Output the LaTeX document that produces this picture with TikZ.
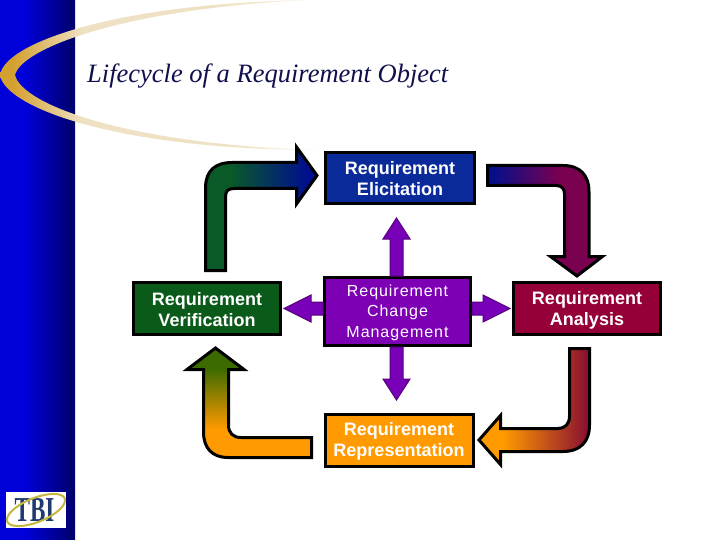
\documentclass[tikz,border=0pt]{standalone}
\usepackage{fontspec}
\setmainfont{Liberation Sans}
\newfontfamily\titlefont{Liberation Serif}
\usetikzlibrary{calc,shapes.geometric}
\definecolor{bandA}{HTML}{0000D8}
\definecolor{bandB}{HTML}{00006A}
\definecolor{gold}{HTML}{D4A030}
\definecolor{cream}{HTML}{EFE2C4}
\definecolor{navy}{HTML}{10104E}
\definecolor{boxblue}{HTML}{0A2A9A}
\definecolor{boxpurple}{HTML}{7E00B4}
\definecolor{boxgreen}{HTML}{0A5A1A}
\definecolor{boxred}{HTML}{960038}
\definecolor{boxorange}{HTML}{FF9A00}
\definecolor{arrgreen}{HTML}{0A5A28}
\definecolor{arrblue}{HTML}{00108C}
\definecolor{arrmaroon}{HTML}{7A0050}
\definecolor{arrdred}{HTML}{8A1030}
\definecolor{arrolive}{HTML}{3A6A00}
\definecolor{logoblue}{HTML}{1F3A70}
\definecolor{logogold}{HTML}{C4B840}
\pgfdeclarehorizontalshading{bandshade}{100bp}{color(0bp)=(bandA);color(42bp)=(bandA);color(75bp)=(bandB);color(100bp)=(bandB)}
\pgfdeclarehorizontalshading{swooshshade}{100bp}{color(0bp)=(gold);color(27bp)=(gold);color(38bp)=(cream);color(60bp)=(cream);color(75bp)=(cream!40!white);color(100bp)=(white)}
\pgfdeclarehorizontalshading{greenblue}{100bp}{color(0bp)=(arrgreen);color(36bp)=(arrgreen);color(70bp)=(arrblue);color(100bp)=(arrblue)}
\pgfdeclarehorizontalshading{bluemaroon}{100bp}{color(0bp)=(arrblue);color(26bp)=(arrblue);color(56bp)=(arrmaroon);color(100bp)=(arrmaroon)}
\pgfdeclarehorizontalshading{orangered}{100bp}{color(0bp)=(boxorange);color(36bp)=(boxorange);color(74bp)=(arrdred);color(100bp)=(arrdred)}
\pgfdeclareverticalshading{orangegreen}{100bp}{color(0bp)=(boxorange);color(38bp)=(boxorange);color(66bp)=(arrolive);color(100bp)=(arrolive)}
\tikzset{
  boxnode/.style={draw=black,line width=3pt,align=center,text=white,inner sep=0pt,font=\fontsize{18}{21}\selectfont\bfseries},
  curvedarrow/.style={draw=black,line width=3pt,miter limit=10},
  purplearrow/.style={draw=boxpurple!70!black,line width=1pt,fill=boxpurple!95!blue},
}
\newcommand\toprule[1]{\rule{0pt}{#1pt}}
% start, tip, head length
\newcommand\purpleblock[3]{%
  \draw[purplearrow] ($(#1)!6.5pt!90:(#2)$)
    -- ($(#2)!#3pt!(#1)!6.5pt!-90:(#1)$)
    -- ($(#2)!#3pt!(#1)!13.5pt!-90:(#1)$)
    -- (#2)
    -- ($(#2)!#3pt!(#1)!13.5pt!90:(#1)$)
    -- ($(#2)!#3pt!(#1)!6.5pt!90:(#1)$)
    -- ($(#1)!6.5pt!-90:(#2)$) -- cycle;}
\begin{document}
\begin{tikzpicture}[x=1pt,y=-1pt]
\useasboundingbox (0,0) rectangle (720,540);
\fill[white] (0,0) rectangle (720,540);
\shade[shading=bandshade] (0,0) rectangle (75,540);
\shade[shading=swooshshade] (0,75) .. controls (5,108) and (120,150) .. (320,150)
  .. controls (130,145) and (22,105) .. (15,75)
  .. controls (22,47) and (130,8) .. (310,0)
  .. controls (120,3) and (5,42) .. (0,75) -- cycle;

\node[text=navy,font=\titlefont\itshape\fontsize{26.5}{32}\selectfont,anchor=west,inner sep=0pt] (title) at (87,76) {Lifecycle of a Requirement Object};

% Nodes
\node[boxnode,fill=boxblue,minimum width=149pt,minimum height=51pt] (elic) at (400,178) {\toprule{15}Requirement\\Elicitation};
\node[boxnode,fill=boxpurple,minimum width=146pt,minimum height=68pt,font=\fontsize{16}{20.5}\selectfont\addfontfeature{LetterSpace=6}] (chg) at (397.5,311.5) {\toprule{14}Requirement\\Change\\Management};
\node[boxnode,fill=boxgreen,minimum width=147pt,minimum height=52pt] (verif) at (207,308.5) {\toprule{15}Requirement\\Verification};
\node[boxnode,fill=boxred,minimum width=147pt,minimum height=52pt] (anal) at (587,308.5) {\toprule{17}Requirement\\Analysis};
\node[boxnode,fill=boxorange,minimum width=148pt,minimum height=52pt] (repr) at (399,440) {\toprule{15}Requirement\\Representation};

% Purple arrows
\coordinate (tU) at (396.5,218);
\coordinate (sU) at (chg.north -| tU);
\coordinate (tD) at (396.5,400);
\coordinate (sD) at (chg.south -| tD);
\coordinate (tL) at (284,308.5);
\coordinate (sL) at (chg.west |- tL);
\coordinate (tR) at (510,308.5);
\coordinate (sR) at (chg.east |- tR);
\purpleblock{sU}{tU}{21}
\purpleblock{sD}{tD}{21}
\purpleblock{sL}{tL}{27}
\purpleblock{sR}{tR}{27}

% Curved block arrows
\coordinate (tipG) at (317,175.5);
\coordinate (tipR) at (577,276);
\coordinate (tipO) at (479,440);
\coordinate (tipV) at (215.5,348);

\path[curvedarrow,shading=greenblue]
  (205.5,270.5) -- (205.5,188) .. controls (205.5,171) and (215,162.5) .. (232,162.5)
  -- (296.5,162.5) -- (296.5,147) -- (tipG) -- (296.5,204) -- (296.5,188.5)
  -- (234,188.5) .. controls (228,188.5) and (225.5,191) .. (225.5,197) -- (225.5,270.5) -- cycle;

\path[curvedarrow,shading=bluemaroon]
  (487.5,165.5) -- (563,165.5) .. controls (580,165.5) and (589,175) .. (589,192)
  -- (589,256.5) -- (602.5,256.5) -- (tipR) -- (550.5,256.5) -- (564.5,256.5)
  -- (564.5,194) .. controls (564.5,189) and (562,185.5) .. (556,185.5) -- (487.5,185.5) -- cycle;

\path[curvedarrow,shading=orangered]
  (589.5,348.5) -- (589.5,425) .. controls (589.5,442) and (580,451.5) .. (563,451.5)
  -- (500.5,451.5) -- (500.5,464.5) -- (tipO) -- (500.5,415.5) -- (500.5,428.5)
  -- (558,428.5) .. controls (565,428.5) and (569.5,424) .. (569.5,416) -- (569.5,348.5) -- cycle;

\path[curvedarrow,shading=orangegreen]
  (311.5,457.5) -- (228,457.5) .. controls (212,457.5) and (203.5,448) .. (203.5,432)
  -- (203.5,369.5) -- (187,369.5) -- (tipV) -- (244,369.5) -- (228.5,369.5)
  -- (228.5,425) .. controls (228.5,433) and (233,437.5) .. (241,437.5) -- (311.5,437.5) -- cycle;

% Logo
\fill[white] (6,492) rectangle (66,528);
\node[text=logoblue,font=\titlefont\bfseries\fontsize{35}{35}\selectfont,inner sep=0pt] (tbi) at (34.5,510) {\scalebox{.66}[1]{TBI}};
\draw[logogold,line width=2pt] (36,510) ellipse [x radius=31pt,y radius=12pt,rotate=22];
\end{tikzpicture}
\end{document}
